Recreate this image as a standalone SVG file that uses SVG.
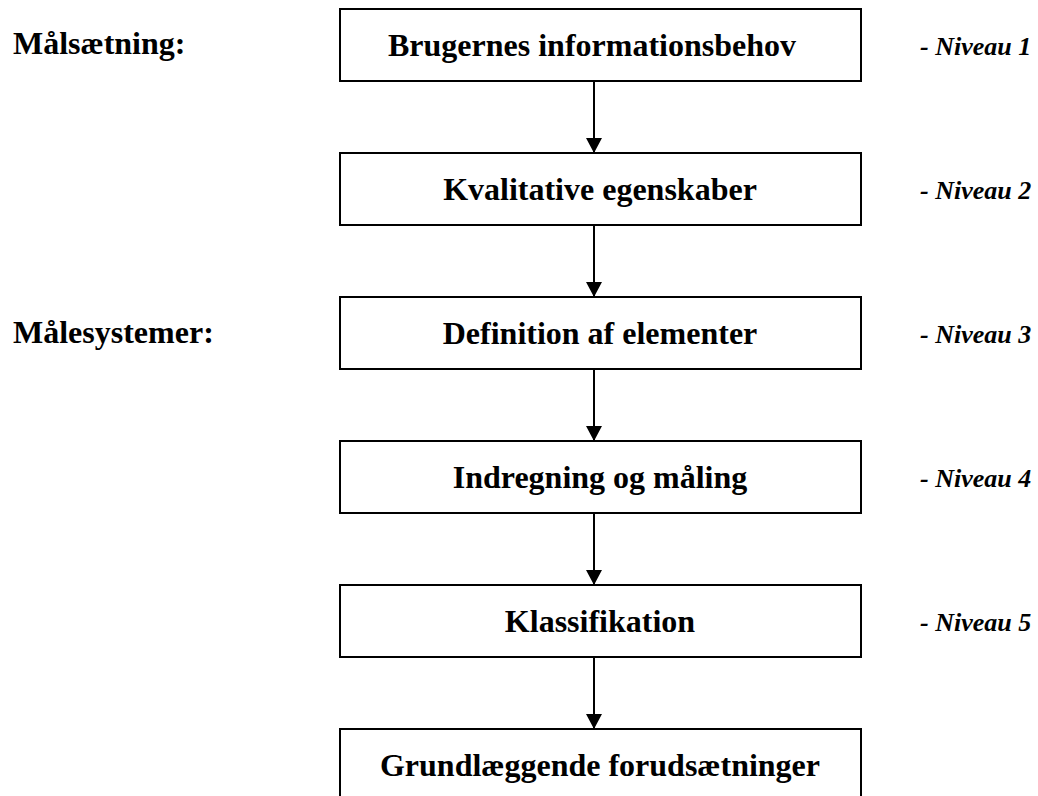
<svg xmlns="http://www.w3.org/2000/svg" width="1038" height="796" viewBox="0 0 1038 796">
  <defs>
    <marker id="arrow" markerUnits="userSpaceOnUse" markerWidth="15" markerHeight="16" refX="15" refY="8" orient="auto" viewBox="0 0 15 16">
      <path d="M0,0 L15,8 L0,16 Z" fill="#000"/>
    </marker>
  </defs>
  <style>
    .box { fill: #fff; stroke: #000; stroke-width: 2; }
    .title { font-family: "Liberation Serif", "Times New Roman", serif; font-weight: bold; font-size: 32px; fill: #000; text-anchor: middle; }
    .side { font-family: "Liberation Serif", "Times New Roman", serif; font-weight: bold; font-size: 32px; fill: #000; }
    .level { font-family: "Liberation Serif", "Times New Roman", serif; font-weight: bold; font-style: italic; font-size: 26px; fill: #000; }
    .conn { stroke: #000; stroke-width: 2; fill: none; }
  </style>
  <rect width="1038" height="796" fill="#fff"/>

  <!-- section headings -->
  <text class="side" x="13" y="54">Målsætning:</text>
  <text class="side" x="13" y="343">Målesystemer:</text>

  <!-- connectors between levels -->
  <g id="connectors">
    <line class="conn" x1="594" y1="82" x2="594" y2="153" marker-end="url(#arrow)"/>
    <line class="conn" x1="594" y1="226" x2="594" y2="297" marker-end="url(#arrow)"/>
    <line class="conn" x1="594" y1="370" x2="594" y2="441" marker-end="url(#arrow)"/>
    <line class="conn" x1="594" y1="514" x2="594" y2="585" marker-end="url(#arrow)"/>
    <line class="conn" x1="594" y1="658" x2="594" y2="729" marker-end="url(#arrow)"/>
  </g>

  <g id="n1">
    <rect class="box" x="340" y="9" width="521" height="72"/>
    <text class="title" x="592" y="56">Brugernes informationsbehov</text>
    <text class="level" x="920" y="55">- Niveau 1</text>
  </g>
  <g id="n2">
    <rect class="box" x="340" y="153" width="521" height="72"/>
    <text class="title" x="600" y="200">Kvalitative egenskaber</text>
    <text class="level" x="920" y="199">- Niveau 2</text>
  </g>
  <g id="n3">
    <rect class="box" x="340" y="297" width="521" height="72"/>
    <text class="title" x="600" y="344">Definition af elementer</text>
    <text class="level" x="920" y="343">- Niveau 3</text>
  </g>
  <g id="n4">
    <rect class="box" x="340" y="441" width="521" height="72"/>
    <text class="title" x="600" y="488">Indregning og måling</text>
    <text class="level" x="920" y="487">- Niveau 4</text>
  </g>
  <g id="n5">
    <rect class="box" x="340" y="585" width="521" height="72"/>
    <text class="title" x="600" y="632">Klassifikation</text>
    <text class="level" x="920" y="631">- Niveau 5</text>
  </g>
  <g id="n6">
    <rect class="box" x="340" y="729" width="521" height="72"/>
    <text class="title" x="600" y="776">Grundlæggende forudsætninger</text>
  </g>
</svg>
